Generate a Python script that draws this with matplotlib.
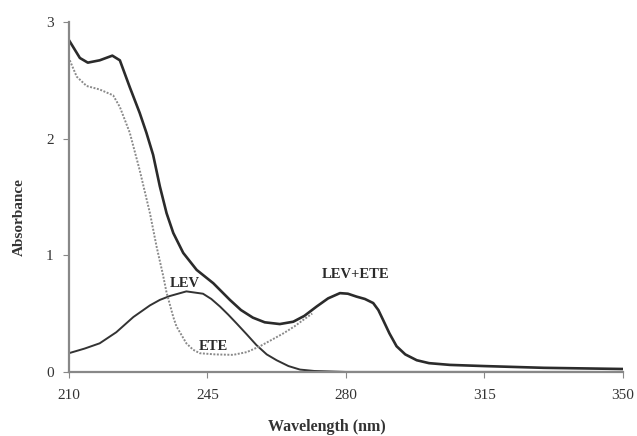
import matplotlib.pyplot as plt

# absorbance spectra
mix_nm = [210, 212.8, 214.8, 217.8, 221, 222.9, 225.4, 227.9, 229.6, 231.3,
          233, 234.7, 236.4, 238.9, 242.3, 246.5, 250.7, 253.5, 256.5, 259.5,
          263.3, 266.7, 269.5, 272.6, 275.5, 278.5, 280.5, 282.7, 284.8, 286.9,
          288.2, 289.4, 291, 292.8, 295, 297.9, 301, 306.3, 315, 330, 350]
mix_abs = [2.845, 2.69, 2.65, 2.67, 2.71, 2.67, 2.44, 2.22, 2.05, 1.86,
           1.59, 1.36, 1.19, 1.02, 0.874, 0.76, 0.617, 0.53, 0.465, 0.425,
           0.41, 0.43, 0.48, 0.56, 0.63, 0.675, 0.67, 0.645, 0.625, 0.59,
           0.53, 0.445, 0.33, 0.22, 0.15, 0.10, 0.075, 0.06, 0.05, 0.035, 0.025]

lev_nm = [210, 214, 217.8, 222, 226.3, 230.5, 233, 235.5, 239.7, 243.9, 246,
          248.2, 250.3, 252.4, 255, 257.4, 260, 262.5, 265.5, 268.4, 272, 280,
          300, 350]
lev_abs = [0.16, 0.2, 0.245, 0.34, 0.47, 0.57, 0.617, 0.65, 0.69, 0.67, 0.625,
           0.56, 0.49, 0.415, 0.32, 0.23, 0.15, 0.10, 0.05, 0.02, 0.008, 0.0,
           0.0, 0.0]

ete_nm = [210.25, 212, 214.5, 217.8, 221.2, 222.9, 225.4, 227.9, 230.5, 232.2,
          233.8, 234.7, 236.4, 237.2, 239.7, 241.4, 243.1, 247, 251.5, 255,
          258.3, 261, 264.2, 267, 269.2, 271.5]
ete_abs = [2.67, 2.53, 2.45, 2.42, 2.37, 2.27, 2.05, 1.73, 1.36, 1.07,
           0.83, 0.68, 0.47, 0.39, 0.245, 0.19, 0.16, 0.15, 0.146, 0.17,
           0.22, 0.27, 0.33, 0.39, 0.445, 0.5]

x_ticks = [210, 245, 280, 315, 350]
y_ticks = [0, 1, 2, 3]

plt.rcParams['font.family'] = ['Liberation Serif', 'DejaVu Serif']

fig = plt.figure(figsize=(6.37, 4.36), dpi=100)
ax = fig.add_axes([0.108, 0.147, 0.87, 0.803])

ax.plot(mix_nm, mix_abs, color='#2b2b2b', lw=1.9)
ax.plot(lev_nm, lev_abs, color='#333333', lw=1.4)
ax.plot(ete_nm, ete_abs, color='#8a8a8a', lw=1.4, linestyle=(0, (1, 0.8)))

lab = dict(fontsize=10.5, fontweight='bold', color='#2a2a2a', ha='left', va='baseline')
ax.text(235.5, 0.73, 'LEV', **lab)
ax.text(242.7, 0.19, 'ETE', **lab)
ax.text(273.9, 0.805, 'LEV+ETE', **lab)

ax.set_xlim(210, 350)
ax.set_ylim(0, 3)
ax.set_xticks(x_ticks)
ax.set_yticks(y_ticks)
ax.tick_params(colors='#888888', labelcolor='#333333', labelsize=11,
               length=4, width=0.8)
ax.tick_params(axis='y', pad=7)
ax.tick_params(axis='x', pad=8)
for side in ['top', 'right']:
    ax.spines[side].set_visible(False)
for side in ['left', 'bottom']:
    ax.spines[side].set_color('#888888')
    ax.spines[side].set_linewidth(1.6)

fig.text(0.513, 0.0115, 'Wavelength (nm)', fontsize=11.5, fontweight='bold',
         color='#333333', ha='center', va='baseline')
fig.text(0.031, 0.502, 'Absorbance', fontsize=11, fontweight='bold',
         color='#333333', ha='center', va='center', rotation=90)

fig.savefig('out.png', dpi=100)
